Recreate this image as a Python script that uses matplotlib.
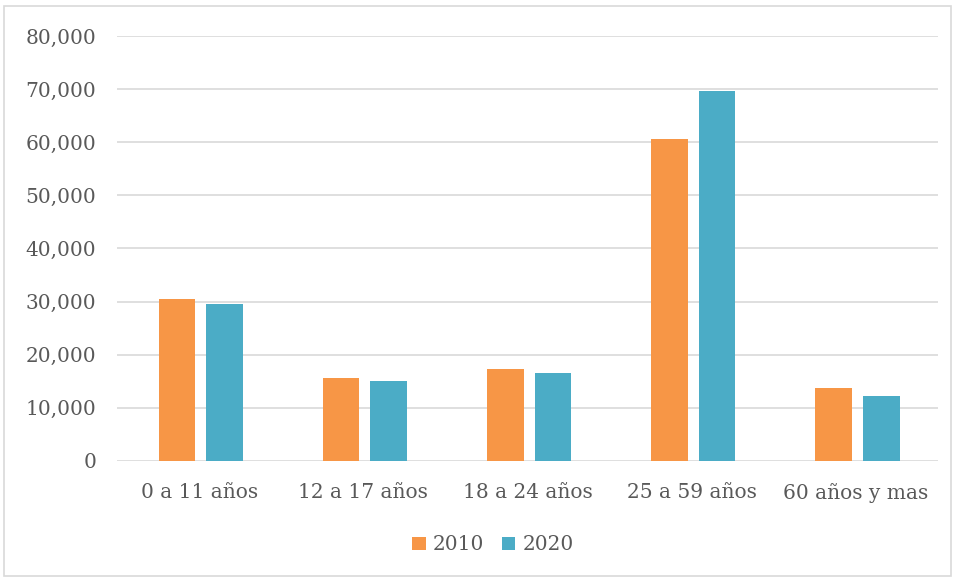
import matplotlib
matplotlib.use("Agg")
import matplotlib.pyplot as plt
from matplotlib.patches import Rectangle
from matplotlib.ticker import FuncFormatter
import numpy as np

categories = ["0 a 11 años", "12 a 17 años", "18 a 24 años", "25 a 59 años", "60 años y mas"]
values_2010 = [30500, 15600, 17300, 60600, 13700]
values_2020 = [29600, 15100, 16600, 69700, 12200]
series_labels = ["2010", "2020"]

plt.rcParams["font.family"] = ["DejaVu Serif"]
text_color = "#595959"

fig = plt.figure(figsize=(9.57, 5.81), dpi=100)
ax = fig.add_axes([117 / 957, 1 - 461 / 581, (938 - 117) / 957, (461 - 36) / 581])

x = np.arange(len(categories))
width = 0.223
offset = 0.145
ax.bar(x - offset + 0.01, values_2010, width, color="#F79646", label=series_labels[0], zorder=3)
ax.bar(x + offset + 0.01, values_2020, width, color="#4BACC6", label=series_labels[1], zorder=3)

ax.set_xlim(-0.5, len(categories) - 0.5)
ax.set_ylim(0, 80000)
ax.set_yticks(np.arange(0, 80001, 10000))
ax.yaxis.set_major_formatter(FuncFormatter(lambda v, p: f"{int(v):,}"))
ax.set_xticks(x)
ax.set_xticklabels(categories)
ax.grid(axis="y", color="#D9D9D9", linewidth=1.2, zorder=0)
for s in ax.spines.values():
    s.set_visible(False)
ax.tick_params(axis="both", length=0, labelsize=14.5, colors=text_color)
ax.tick_params(axis="y", pad=15)
ax.tick_params(axis="x", pad=16)

leg = fig.legend(loc="center", bbox_to_anchor=(493 / 957, 1 - 545 / 581), ncol=2, frameon=False,
                 fontsize=14.5, handlelength=0.65, handleheight=0.65, columnspacing=0.9,
                 handletextpad=0.35, labelcolor=text_color)

fig.patches.append(Rectangle((4 / 957, 1 - 576 / 581), 947 / 957, 570 / 581,
                             transform=fig.transFigure, fill=False,
                             edgecolor="#D9D9D9", linewidth=1.2))

fig.savefig("out.png", dpi=100)
